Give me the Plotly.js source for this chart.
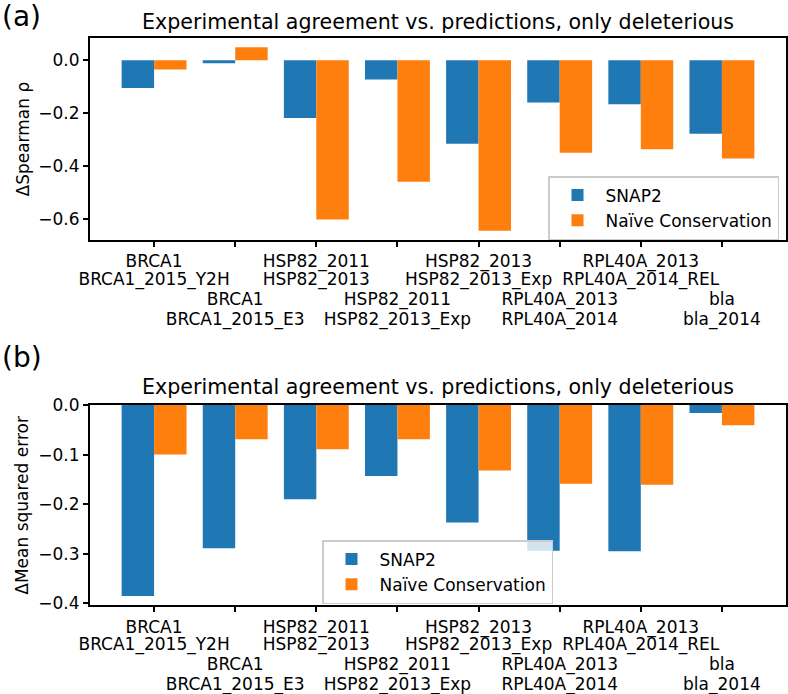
<!DOCTYPE html>
<html>
<head>
<meta charset="utf-8">
<script src="https://cdn.plot.ly/plotly-3.0.1.min.js"></script>
<style>html,body{margin:0;padding:0;background:#fff;}#chart{width:788px;height:694px;}</style>
</head>
<body>
<div id="chart"></div>
<script>
// ---- data ----
const categories = [
  "BRCA1<br>BRCA1_2015_Y2H",
  "BRCA1<br>BRCA1_2015_E3",
  "HSP82_2011<br>HSP82_2013",
  "HSP82_2011<br>HSP82_2013_Exp",
  "HSP82_2013<br>HSP82_2013_Exp",
  "RPL40A_2013<br>RPL40A_2014",
  "RPL40A_2013<br>RPL40A_2014_REL",
  "bla<br>bla_2014"
];
const seriesNames = ["SNAP2", "Naïve Conservation"];
const spearmanSnap2 = [-0.105, -0.011, -0.218, -0.073, -0.315, -0.159, -0.166, -0.277];
const spearmanNaive = [-0.035, 0.049, -0.601, -0.458, -0.643, -0.349, -0.336, -0.371];
const mseSnap2 = [-0.385, -0.289, -0.190, -0.143, -0.237, -0.294, -0.295, -0.016];
const mseNaive = [-0.100, -0.069, -0.089, -0.069, -0.132, -0.159, -0.161, -0.041];
const panelTitle = "Experimental agreement vs. predictions, only deleterious";
const yTitleA = "ΔSpearman ρ";
const yTitleB = "ΔMean squared error";

// ---- styling ----
const FONT = "DejaVu Sans, sans-serif";
const BLUE = "#1f77b4", ORANGE = "#ff7f0e";
const X_RANGE = [-0.79, 7.79];
const xDomain = [90 / 788, 786 / 788];
const tickFont = {family: FONT, size: 17, color: "#000"};

// Staggered two-line tick labels: even categories use rows 1-2, odd ones rows 3-4.
const idx = categories.map((c, i) => i);
const parts = categories.map(c => c.split("<br>"));
const evenIdx = idx.filter(i => i % 2 === 0);
const oddIdx = idx.filter(i => i % 2 === 1);
const row1Text = idx.map(i => (i % 2 === 0 ? parts[i][0] : ""));
// rows 2..4 drawn on label-only overlay axes, pushed down by a standoff
const extraRows = [
  {vals: evenIdx, text: evenIdx.map(i => parts[i][1]), standoff: 27},
  {vals: oddIdx, text: oddIdx.map(i => parts[i][0]), standoff: 47},
  {vals: oddIdx, text: oddIdx.map(i => parts[i][1]), standoff: 67}
];

function bar(name, y, color, xa, ya, legend) {
  return {
    type: "bar", name: name, x: categories, y: y,
    xaxis: xa, yaxis: ya, legend: legend,
    marker: {color: color, line: {width: 0}},
    hoverinfo: "skip"
  };
}
// invisible carrier so a label-only overlay axis is drawn
function carrier(xa, ya, vals) {
  return {type: "scatter", mode: "none", x: vals, y: vals.map(() => 0),
    xaxis: xa, yaxis: ya, showlegend: false, hoverinfo: "skip"};
}

function xaxisMain(anchor) {
  return {
    anchor: anchor, domain: xDomain, type: "category",
    range: X_RANGE, tickvals: categories, ticktext: row1Text, tickangle: 0,
    showline: true, mirror: true, linecolor: "#000", linewidth: 2,
    ticks: "outside", ticklen: 5, tickwidth: 2, tickcolor: "#000",
    showgrid: false, zeroline: false, automargin: false, tickfont: tickFont
  };
}
function xaxisRow(overlay, anchor, row) {
  return {
    overlaying: overlay, anchor: anchor, side: "bottom", domain: xDomain, type: "linear",
    range: X_RANGE, tickvals: row.vals, ticktext: row.text, tickangle: 0,
    showline: false, ticks: "", showgrid: false, zeroline: false, automargin: false,
    ticklabelstandoff: row.standoff, tickfont: tickFont
  };
}
function yaxis(anchor, domain, range, tickvals) {
  return {
    anchor: anchor, domain: domain, range: range,
    tickvals: tickvals, tickformat: ".1f",
    showline: true, mirror: true, linecolor: "#000", linewidth: 2,
    ticks: "outside", ticklen: 5, tickwidth: 2, tickcolor: "#000",
    showgrid: false, zeroline: false, automargin: false, tickfont: tickFont
  };
}

const legendStyle = {
  xanchor: "left", yanchor: "top", itemwidth: 46,
  bgcolor: "rgba(255,255,255,0.8)", bordercolor: "#cccccc", borderwidth: 1.5,
  font: {family: FONT, size: 17, color: "#000"}, tracegroupgap: 0
};

const yDomA = [1 - 239.9 / 694, 1 - 38.1 / 694];
const yDomB = [1 - 605.4 / 694, 1 - 405 / 694];
function ann(text, x, y, size, extra) {
  return Object.assign({text: text, xref: "paper", yref: "paper", x: x, y: y,
    xanchor: "center", yanchor: "middle", showarrow: false,
    font: {family: FONT, size: size, color: "#000"}}, extra || {});
}

const data = [
  bar(seriesNames[0], spearmanSnap2, BLUE, "x", "y", "legend"),
  bar(seriesNames[1], spearmanNaive, ORANGE, "x", "y", "legend"),
  bar(seriesNames[0], mseSnap2, BLUE, "x2", "y2", "legend2"),
  bar(seriesNames[1], mseNaive, ORANGE, "x2", "y2", "legend2")
];

const layout = {
  width: 788, height: 694,
  margin: {l: 0, r: 0, t: 0, b: 0},
  paper_bgcolor: "#fff", plot_bgcolor: "#fff",
  barmode: "group", bargap: 0.2, bargroupgap: 0,
  font: {family: FONT, color: "#000"},
  showlegend: true,
  xaxis: xaxisMain("y"),
  yaxis: yaxis("x", yDomA, [-0.6776, 0.0836], [0, -0.2, -0.4, -0.6]),
  xaxis2: xaxisMain("y2"),
  yaxis2: yaxis("x2", yDomB, [-0.404, 0], [0, -0.1, -0.2, -0.3, -0.4]),
  legend: Object.assign({x: 548 / 788, y: 1 - 176 / 694}, legendStyle),
  legend2: Object.assign({x: 322 / 788, y: 1 - 540 / 694}, legendStyle),
  annotations: [
    ann(panelTitle, 438 / 788, 1 - 22 / 694, 20.6),
    ann(panelTitle, 438 / 788, 1 - 387 / 694, 20.6),
    ann(yTitleA, 22.5 / 788, (yDomA[0] + yDomA[1]) / 2, 17, {textangle: -90}),
    ann(yTitleB, 22.5 / 788, (yDomB[0] + yDomB[1]) / 2, 17, {textangle: -90}),
    ann("(a)", 0, 1 - 17 / 694, 28, {xanchor: "left"}),
    ann("(b)", 0, 1 - 357 / 694, 28, {xanchor: "left"})
  ]
};

// label-row overlay axes: x3,x5,x7 for panel (a); x4,x6,x8 for panel (b)
extraRows.forEach((row, k) => {
  const na = 3 + 2 * k, nb = 4 + 2 * k;
  layout["xaxis" + na] = xaxisRow("x", "y", row);
  layout["xaxis" + nb] = xaxisRow("x2", "y2", row);
  data.push(carrier("x" + na, "y", row.vals));
  data.push(carrier("x" + nb, "y2", row.vals));
});

Plotly.newPlot("chart", data, layout, {staticPlot: true, displayModeBar: false});
</script>
</body>
</html>
